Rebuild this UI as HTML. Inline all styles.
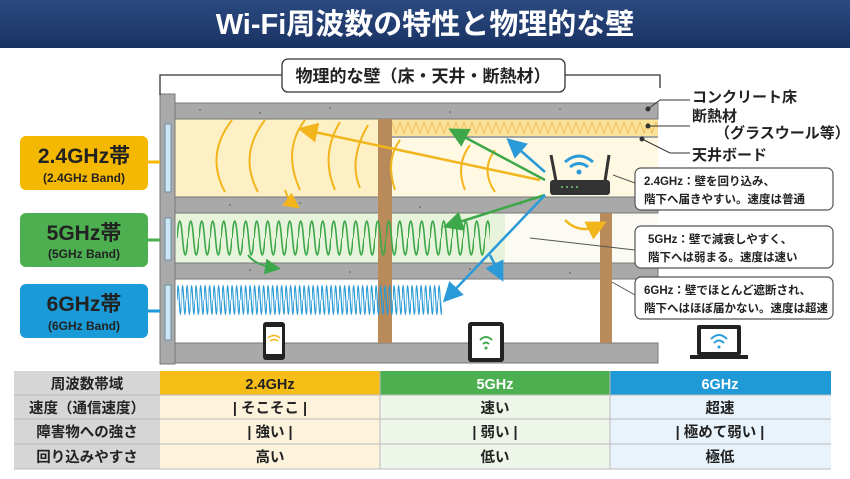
<!DOCTYPE html>
<html><head><meta charset="utf-8"><style>
body{margin:0;width:850px;height:474px;overflow:hidden;background:#fff;font-family:"Liberation Sans","Noto Sans CJK JP",sans-serif}
</style></head><body>
<svg width="850" height="474" viewBox="0 0 850 474" xmlns="http://www.w3.org/2000/svg" font-family="Liberation Sans, Noto Sans CJK JP, sans-serif">
<defs>
<linearGradient id="tg" x1="0" y1="0" x2="0" y2="1"><stop offset="0" stop-color="#2b4a80"/><stop offset="1" stop-color="#1a3263"/></linearGradient>
<pattern id="zz" width="8" height="17" patternUnits="userSpaceOnUse"><rect width="8" height="17" fill="#fbe29a"/><path d="M0 3 L4 14 L8 3" stroke="#e8b84a" fill="none" stroke-width="0.8"/></pattern>
<pattern id="p5" x="177" y="218" width="11" height="40" patternUnits="userSpaceOnUse"><path d="M0 20 Q2.75 -14 5.5 20 Q8.25 54 11 20" stroke="#3da84a" stroke-width="1.6" fill="none"/></pattern>
<pattern id="p6" x="177" y="284" width="4.5" height="32" patternUnits="userSpaceOnUse"><path d="M0 16 Q1.125 -13 2.25 16 Q3.375 45 4.5 16" stroke="#2a9ad8" stroke-width="1.2" fill="none"/></pattern>
<marker id="ay" markerWidth="8" markerHeight="8" refX="5" refY="4" orient="auto"><path d="M0 0 L8 4 L0 8z" fill="#f2b51c"/></marker>
<marker id="ag" markerWidth="8" markerHeight="8" refX="5" refY="4" orient="auto"><path d="M0 0 L8 4 L0 8z" fill="#3da84a"/></marker>
<marker id="ab" markerWidth="8" markerHeight="8" refX="5" refY="4" orient="auto"><path d="M0 0 L8 4 L0 8z" fill="#2a9ad8"/></marker>
</defs>
<rect width="850" height="48" fill="url(#tg)"/>
<text x="425" y="34" text-anchor="middle" font-size="29" font-weight="bold" fill="#fff">Wi-Fi周波数の特性と物理的な壁</text>

<rect x="175" y="119" width="203" height="78" fill="#fdf0c4"/>
<rect x="392" y="137" width="266" height="60" fill="#fff8e2"/>
<rect x="175" y="213" width="330" height="50" fill="#e8f3dc"/>
<rect x="505" y="213" width="153" height="50" fill="#fbfbf4"/>
<rect x="175" y="279" width="483" height="64" fill="#fff"/>
<rect x="392" y="119" width="266" height="17" fill="url(#zz)"/>
<line x1="392" y1="137" x2="658" y2="137" stroke="#888" stroke-width="1.5"/>
<g fill="#a9a9a9" stroke="#777" stroke-width="1">
<rect x="172" y="103" width="486" height="16"/>
<rect x="172" y="197" width="486" height="16"/>
<rect x="172" y="263" width="486" height="16"/>
<rect x="160" y="343" width="498" height="20"/>
<rect x="160" y="94" width="15" height="270"/>
</g>
<g fill="#777"><circle cx="200" cy="110" r="1"/><circle cx="260" cy="113" r="1"/><circle cx="330" cy="108" r="1"/><circle cx="450" cy="112" r="1"/><circle cx="560" cy="109" r="1"/><circle cx="230" cy="205" r="1"/><circle cx="300" cy="203" r="1"/><circle cx="420" cy="207" r="1"/><circle cx="520" cy="204" r="1"/><circle cx="250" cy="270" r="1"/><circle cx="350" cy="272" r="1"/><circle cx="470" cy="269" r="1"/><circle cx="570" cy="273" r="1"/></g>
<g fill="#cde6f2" stroke="#6a8fa8"><rect x="165" y="124" width="6" height="68"/><rect x="165" y="218" width="6" height="42"/><rect x="165" y="285" width="6" height="55"/></g>
<rect x="378" y="119" width="14" height="224" fill="#b98a5a"/>
<rect x="600" y="213" width="12" height="130" fill="#b98a5a"/>
<path d="M160 95 V75 H282 M565 75 H660 V88" stroke="#333" fill="none" stroke-width="1.3"/>
<rect x="282" y="59" width="283" height="33" rx="6" fill="#fff" stroke="#333" stroke-width="1.3"/>
<text x="423" y="82" text-anchor="middle" font-size="17" font-weight="bold" fill="#222">物理的な壁（床・天井・断熱材）</text>

<g stroke="#f2b51c" stroke-width="2" fill="none">
<path d="M225 192 Q205 155 232 120"/><path d="M258 192 Q238 155 265 120"/><path d="M300 190 Q282 150 305 120"/><path d="M335 190 Q320 155 340 122"/><path d="M360 188 Q348 160 368 125"/>
<path d="M395 190 Q385 160 400 140"/><path d="M465 190 Q455 165 470 145"/><path d="M495 192 Q480 170 495 150"/>
</g>
<line x1="540" y1="180" x2="305" y2="130" stroke="#f2b51c" stroke-width="2.5" marker-end="url(#ay)"/>
<path d="M285 190 Q288 200 295 205" stroke="#f2b51c" stroke-width="2" fill="none" marker-end="url(#ay)"/>
<path d="M565 220 Q580 235 600 225" stroke="#f2b51c" stroke-width="2.5" fill="none" marker-end="url(#ay)"/>
<rect x="177" y="218" width="313" height="40" fill="url(#p5)"/>
<path d="M248 255 Q255 265 275 268" stroke="#3da84a" stroke-width="2" fill="none" marker-end="url(#ag)"/>
<line x1="545" y1="180" x2="455" y2="132" stroke="#3da84a" stroke-width="2.5" marker-end="url(#ag)"/>
<line x1="545" y1="195" x2="450" y2="225" stroke="#3da84a" stroke-width="2.5" marker-end="url(#ag)"/>
<rect x="177" y="284" width="265" height="32" fill="url(#p6)"/>
<line x1="545" y1="172" x2="512" y2="143" stroke="#2a9ad8" stroke-width="2.5" marker-end="url(#ab)"/>
<line x1="545" y1="195" x2="448" y2="297" stroke="#2a9ad8" stroke-width="2.5" marker-end="url(#ab)"/>
<path d="M490 255 L500 275" stroke="#2a9ad8" stroke-width="2.5" marker-end="url(#ab)"/>

<rect x="550" y="180" width="60" height="15" rx="3" fill="#333"/>
<line x1="556" y1="181" x2="551" y2="155" stroke="#333" stroke-width="3"/>
<line x1="605" y1="181" x2="609" y2="155" stroke="#333" stroke-width="3"/>
<g fill="#7c7"><circle cx="562" cy="187" r="1"/><circle cx="567" cy="187" r="1"/><circle cx="572" cy="187" r="1"/><circle cx="577" cy="187" r="1"/></g>
<g stroke="#2a9ad8" stroke-width="3" fill="none"><path d="M565 162 Q579 150 593 162"/><path d="M570 167 Q579 160 588 167"/></g><circle cx="579" cy="172" r="2.5" fill="#2a9ad8"/>

<g stroke-width="3"><line x1="148" y1="162" x2="160" y2="162" stroke="#f5b700"/><line x1="148" y1="240" x2="160" y2="240" stroke="#4caf50"/><line x1="148" y1="311" x2="160" y2="311" stroke="#1a9ad6"/></g>
<rect x="20" y="136" width="128" height="54" rx="6" fill="#f5b800"/>
<text x="84" y="163" text-anchor="middle" font-size="21" font-weight="bold" fill="#222">2.4GHz帯</text>
<text x="84" y="182" text-anchor="middle" font-size="12" font-weight="bold" fill="#222">(2.4GHz Band)</text>
<rect x="20" y="213" width="128" height="54" rx="6" fill="#4caf50"/>
<text x="84" y="240" text-anchor="middle" font-size="21" font-weight="bold" fill="#222">5GHz帯</text>
<text x="84" y="258" text-anchor="middle" font-size="12" font-weight="bold" fill="#222">(5GHz Band)</text>
<rect x="20" y="284" width="128" height="54" rx="6" fill="#1a9ad6"/>
<text x="84" y="311" text-anchor="middle" font-size="21" font-weight="bold" fill="#222">6GHz帯</text>
<text x="84" y="330" text-anchor="middle" font-size="12" font-weight="bold" fill="#222">(6GHz Band)</text>

<g stroke="#333" stroke-width="1" fill="none"><path d="M648 109 L660 100 H690"/><path d="M648 126 H690"/><path d="M642 139 L670 153 H690"/></g>
<circle cx="648" cy="109" r="2.5" fill="#333"/><circle cx="648" cy="126" r="2.5" fill="#333"/><circle cx="642" cy="139" r="2.5" fill="#333"/>
<g font-size="15" font-weight="bold" fill="#222"><text x="692" y="102">コンクリート床</text><text x="692" y="121">断熱材</text><text x="715" y="138">（グラスウール等）</text><text x="692" y="160">天井ボード</text></g>
<g stroke="#555" stroke-width="1" fill="none"><path d="M613 175 L635 183"/><path d="M530 238 L635 250"/><path d="M612 282 L635 295"/></g>
<g fill="#fff" stroke="#555" stroke-width="1.2"><rect x="635" y="168" width="198" height="42" rx="6"/><rect x="635" y="226" width="198" height="42" rx="6"/><rect x="635" y="277" width="198" height="42" rx="6"/></g>
<g font-size="11.5" font-weight="bold" fill="#222">
<text x="644" y="185">2.4GHz：壁を回り込み、</text><text x="644" y="203">階下へ届きやすい。速度は普通</text>
<text x="648" y="243">5GHz：壁で減衰しやすく、</text><text x="648" y="261">階下へは弱まる。速度は速い</text>
<text x="644" y="294">6GHz：壁でほとんど遮断され、</text><text x="644" y="312">階下へはほぼ届かない。速度は超速</text>
</g>
<rect x="263" y="322" width="22" height="38" rx="3" fill="#222"/><rect x="266" y="327" width="16" height="27" fill="#fff"/>
<g stroke="#f2b51c" stroke-width="1.5" fill="none"><path d="M268 338 Q274 333 280 338"/><path d="M270 341 Q274 338 278 341"/></g>
<rect x="468" y="322" width="36" height="40" rx="3" fill="#222"/><rect x="472" y="326" width="28" height="32" fill="#fff"/>
<g stroke="#3da84a" stroke-width="2" fill="none"><path d="M480 340 Q486 334 492 340"/><path d="M483 344 Q486 341 489 344"/></g><circle cx="486" cy="348" r="1.5" fill="#3da84a"/>
<rect x="697" y="325" width="44" height="30" rx="2" fill="#222"/><rect x="701" y="329" width="36" height="23" fill="#fff"/><rect x="690" y="355" width="58" height="4" fill="#222"/>
<g stroke="#2a9ad8" stroke-width="2" fill="none"><path d="M711 339 Q719 331 727 339"/><path d="M714 343 Q719 338 724 343"/></g><circle cx="719" cy="347" r="1.5" fill="#2a9ad8"/>

<rect x="14" y="371" width="146" height="98" fill="#d6d6d6"/>
<rect x="160" y="371" width="220" height="24" fill="#f6bd16"/>
<rect x="380" y="371" width="230" height="24" fill="#4caf50"/>
<rect x="610" y="371" width="221" height="24" fill="#1f9ad6"/>
<rect x="160" y="395" width="220" height="74" fill="#fdf3dc"/>
<rect x="380" y="395" width="230" height="74" fill="#eef6ea"/>
<rect x="610" y="395" width="221" height="74" fill="#e8f3fb"/>
<g stroke="#bbb" stroke-width="1"><line x1="14" y1="395" x2="831" y2="395"/><line x1="14" y1="419" x2="831" y2="419"/><line x1="14" y1="444" x2="831" y2="444"/><line x1="14" y1="469" x2="831" y2="469"/><line x1="380" y1="371" x2="380" y2="469"/><line x1="610" y1="371" x2="610" y2="469"/></g>
<g font-size="14.5" font-weight="bold" fill="#222" text-anchor="middle">
<text x="87" y="389">周波数帯域</text><text x="87" y="413">速度（通信速度）</text><text x="87" y="437">障害物への強さ</text><text x="87" y="462">回り込みやすさ</text>
<text x="270" y="389">2.4GHz</text><text x="495" y="389" fill="#fff">5GHz</text><text x="720" y="389" fill="#fff">6GHz</text>
<text x="270" y="413">| そこそこ |</text><text x="495" y="413">速い</text><text x="720" y="413">超速</text>
<text x="270" y="437">| 強い |</text><text x="495" y="437">| 弱い |</text><text x="720" y="437">| 極めて弱い |</text>
<text x="270" y="462">高い</text><text x="495" y="462">低い</text><text x="720" y="462">極低</text>
</g>
</svg>
</body></html>
